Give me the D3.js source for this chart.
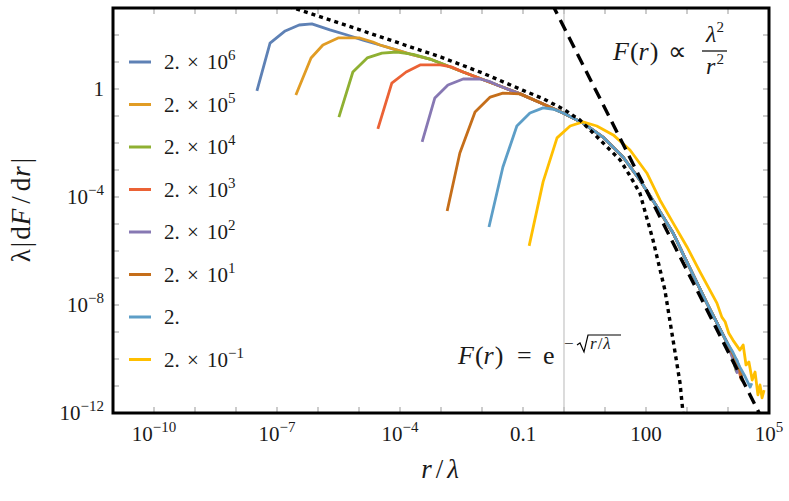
<!DOCTYPE html>
<html><head><meta charset="utf-8">
<script src="https://cdn.jsdelivr.net/npm/d3@7"></script>
<style>body{margin:0;background:#fff}svg{display:block}
svg text{font-family:"Liberation Serif","Times New Roman",Tinos,cursive !important;}</style>
</head><body><svg id="c" width="789" height="501" font-family="Liberation Serif"></svg>
<script>
// ---- DATA (values given as [log10(r/λ), log10(λ|dF/dr|)]) ----
const seriesLabels = ["2e6","2e5","2e4","2e3","2e2","2e1","2","2e-1"];
const legendExponents = [6,5,4,3,2,1,null,-1];
const colors = ["#5E81B5","#E19C24","#8FB032","#EB6235","#8778B3","#C56E1A","#5D9EC7","#FFBF00"];

// rising part of each series before it joins the common curve
const heads = [
  [[-7.49,-0.07],[-7.17,1.70],[-6.80,2.15],[-6.46,2.37],[-6.15,2.41]],
  [[-6.54,-0.22],[-6.17,1.15],[-5.88,1.63],[-5.51,1.89],[-4.98,1.89],[-4.66,1.74]],
  [[-5.49,-1.04],[-5.15,0.63],[-4.80,1.15],[-4.44,1.33],[-4.07,1.37],[-3.68,1.28]],
  [[-4.54,-1.48],[-4.20,0.22],[-3.85,0.63],[-3.51,0.89],[-3.02,0.89],[-2.75,0.82]],
  [[-3.46,-1.96],[-3.15,-0.33],[-2.83,0.15],[-2.46,0.37],[-2.05,0.37],[-1.80,0.27]],
  [[-2.85,-4.52],[-2.54,-2.37],[-2.17,-0.85],[-1.80,-0.30],[-1.49,-0.15]],
  [[-1.83,-5.11],[-1.49,-2.89],[-1.15,-1.37],[-0.83,-0.89],[-0.51,-0.70],[-0.25,-0.75]],
  []
];
// common curve that the series merge into
const band = [[-5.71,2.19],[-5.29,2.00],[-4.90,1.81],[-4.49,1.63],[-4.07,1.44],[-3.68,1.26],
  [-3.27,1.11],[-2.46,0.63],[-1.63,0.15],[-1.07,-0.18],[-0.59,-0.50],[-0.02,-0.89],[0.46,-1.26],
  [0.95,-1.78],[1.44,-2.52],[1.85,-3.37],[2.27,-4.37],[2.66,-5.33],[2.90,-6.10],[3.49,-7.95],[3.98,-9.40]];
// noisy ends of each series
const tails = [
  [[4.12,-9.85],[4.22,-10.05],[4.30,-10.55]],
  [[4.10,-9.75],[4.25,-10.20],[4.35,-10.60]],
  [[4.10,-9.90],[4.20,-10.45],[4.27,-10.30],[4.33,-10.80]],
  [[4.15,-9.95],[4.25,-10.30],[4.32,-10.75]],
  [[4.12,-10.00],[4.22,-10.50],[4.28,-10.35],[4.36,-10.85]],
  [[4.13,-9.85],[4.26,-10.30],[4.34,-10.70]],
  [[4.12,-9.75],[4.29,-10.30],[4.40,-10.60],[4.54,-11.04],[4.58,-10.90]],
  []
];
const yellow = [[-0.85,-5.81],[-0.51,-3.44],[-0.17,-1.81],[0.15,-1.37],[0.46,-1.22],[0.80,-1.37],
  [1.20,-1.70],[1.61,-2.26],[2.02,-3.11],[2.34,-4.11],[2.66,-4.96],[3.00,-5.85],[3.32,-6.78],
  [3.73,-7.93],[3.85,-8.45],[3.93,-8.62],[4.02,-9.05],[4.12,-9.30],[4.29,-9.67],[4.37,-9.48],
  [4.44,-10.22],[4.51,-10.11],[4.59,-10.78],[4.66,-10.48],[4.73,-11.33],[4.78,-10.96],[4.83,-11.44],[4.88,-11.15]];
const dottedCurve = [[-6.9,3.15],[-6.0,2.70],[-5.0,2.20],[-4.0,1.69],[-3.0,1.18],[-2.0,0.60],[-1.0,-0.05],
  [-0.52,-0.35],[0.0,-0.76],[0.39,-1.15],[0.71,-1.63],[1.37,-2.63],[1.61,-3.22],[1.85,-3.85],[2.17,-5.59],
  [2.46,-7.44],[2.66,-9.30],[2.83,-10.89],[2.90,-11.96],[2.93,-12.5]];
const dashedCurve = [[-0.30,3.18],[4.80,-12.12]];
const xTickVals = [-10,-7,-4,-1,2,5];
const xTickLabels = [["10","−10"],["10","−7"],["10","−4"],["0.1",null],["100",null],["10","5"]];
const yTickVals = [0,-4,-8,-12];
const yTickLabels = [["1",null],["10","−4"],["10","−8"],["10","−12"]];

// ---- CHART ----
const svg = d3.select("#c");
const L=113,R=769,T=8,B=413;
const x = d3.scaleLog().domain([1e-11,1e5]).range([L,R]);
const y = d3.scaleLog().domain([1e-12,1e3]).range([B,T]);
const FAM = '"Liberation Serif", "Times New Roman", cursive';

// text pieces as separate <text> elements (no tspans)
function rich(g, parts, x0, y0, anchor){
  const els=[]; let cx=0;
  parts.forEach(p=>{
    const el = g.append("text").attr("x",0).attr("y",y0+(p.dy||0))
      .attr("font-family","Liberation Serif").attr("font-size",p.size)
      .style("font-family",FAM,"important").style("font-size",p.size+"px")
      .attr("fill",p.fill||"#1a1a1a").text(p.t);
    if(p.italic) el.style("font-style","italic");
    cx += (p.pre||0);
    els.push([el,cx]);
    cx += el.node().getComputedTextLength() + (p.gap||0);
  });
  const shift = anchor==="middle"? -cx/2 : anchor==="end"? -cx : 0;
  els.forEach(([el,o])=>el.attr("x",x0+shift+o));
}

svg.append("defs").append("clipPath").attr("id","clip")
  .append("rect").attr("x",L).attr("y",T).attr("width",R-L).attr("height",B-T);

// decade ticks on all sides
const tg = svg.append("g").attr("stroke","#999").attr("stroke-width",1);
for(let e=-10;e<=4;e++){
  const px=x(10**e);
  tg.append("line").attr("x1",px).attr("x2",px).attr("y1",B).attr("y2",B-6);
  tg.append("line").attr("x1",px).attr("x2",px).attr("y1",T).attr("y2",T+6);
}
for(let e=-11;e<=2;e++){
  const py=y(10**e);
  tg.append("line").attr("x1",L).attr("x2",L+6).attr("y1",py).attr("y2",py);
  tg.append("line").attr("x1",R).attr("x2",R-6).attr("y1",py).attr("y2",py);
}

// vertical reference line at r/λ = 1
svg.append("line").attr("x1",x(1)).attr("x2",x(1)).attr("y1",T).attr("y2",B)
  .attr("stroke","#c4c4c4").attr("stroke-width",1.2);

const line = d3.line().x(d=>x(10**d[0])).y(d=>y(10**d[1]));
const plot = svg.append("g").attr("clip-path","url(#clip)");

seriesLabels.forEach((s,i)=>{
  let pts;
  if(i===7) pts = yellow;
  else {
    const h = heads[i];
    const lastX = h[h.length-1][0];
    pts = h.concat(band.filter(p=>p[0]>lastX+0.1), tails[i]);
  }
  plot.append("path").datum(pts).attr("d",line).attr("fill","none")
    .attr("stroke",colors[i]).attr("stroke-width",2.8).attr("stroke-linejoin","round");
});

plot.append("path").datum(dottedCurve).attr("d",line).attr("fill","none")
  .attr("stroke","#000").attr("stroke-width",3.4).attr("stroke-dasharray","4,4");
plot.append("path").datum(dashedCurve).attr("d",line).attr("fill","none")
  .attr("stroke","#000").attr("stroke-width",3.4).attr("stroke-dasharray","12,7");

// frame
svg.append("rect").attr("x",L).attr("y",T).attr("width",R-L).attr("height",B-T)
  .attr("fill","none").attr("stroke","#000").attr("stroke-width",3);

// tick labels
const powParts = (b,e) => e===null ? [{t:b,size:21}] : [{t:b,size:21},{t:e,size:15,dy:-9}];
xTickVals.forEach((e,i)=>rich(svg, powParts(...xTickLabels[i]), x(10**e), 441, "middle"));
yTickVals.forEach((e,i)=>rich(svg, powParts(...yTickLabels[i]), 104, y(10**e)+7, "end"));

// axis titles
rich(svg, [{t:"r",size:27,italic:true,gap:4},{t:"/",size:27,gap:4},{t:"λ",size:27,italic:true}], 440, 478, "middle");
const yl = svg.append("g").attr("transform","translate(30,210) rotate(-90)");
rich(yl, [{t:"λ",size:27,gap:2},{t:"|",size:27,gap:2},{t:"d",size:27,gap:1},{t:"F",size:27,italic:true,gap:5},
  {t:"/",size:27,gap:5},{t:"d",size:27,gap:1},{t:"r",size:27,italic:true,gap:3},{t:"|",size:27}], 0, 0, "middle");

// legend
const lg = svg.append("g");
seriesLabels.forEach((s,i)=>{
  const cy = 62 + i*42.5;
  lg.append("line").attr("x1",129).attr("x2",151).attr("y1",cy).attr("y2",cy)
    .attr("stroke",colors[i]).attr("stroke-width",3);
  rich(lg, [{t:"2.",size:21}], 164, cy+7, "start");
  if(legendExponents[i]!==null){
    rich(lg, [{t:"×",size:21}], 187, cy+7, "start");
    rich(lg, [{t:"10",size:21},{t:String(legendExponents[i]).replace("-","−"),size:15,dy:-9}], 207, cy+7, "start");
  }
});

// annotations
rich(svg, [{t:"F",size:26,italic:true,gap:1},{t:"(",size:26},{t:"r",size:26,italic:true,gap:1},{t:")",size:26}], 613, 60, "start");
rich(svg, [{t:"∝",size:26}], 668, 60, "start");
rich(svg, [{t:"λ",size:24,italic:true},{t:"2",size:15,dy:-10}], 715, 42, "middle");
svg.append("line").attr("x1",702).attr("x2",727).attr("y1",51).attr("y2",51).attr("stroke","#000").attr("stroke-width",1.2);
rich(svg, [{t:"r",size:24,italic:true,gap:1},{t:"2",size:15,dy:-10}], 715, 74, "middle");

rich(svg, [{t:"F",size:26,italic:true,gap:1},{t:"(",size:26},{t:"r",size:26,italic:true,gap:1},{t:")",size:26}], 458, 364, "start");
rich(svg, [{t:"=",size:26}], 517, 364, "start");
rich(svg, [{t:"e",size:26}], 543, 364, "start");
rich(svg, [{t:"−",size:17}], 564, 349, "start");
svg.append("path").attr("d","M577,345 L580,343 L584,352 L588,335 L621,335")
  .attr("fill","none").attr("stroke","#000").attr("stroke-width",1.2);
rich(svg, [{t:"r",size:17,italic:true,gap:1},{t:"/",size:17,gap:1},{t:"λ",size:17,italic:true}], 590, 349, "start");
</script></body></html>
